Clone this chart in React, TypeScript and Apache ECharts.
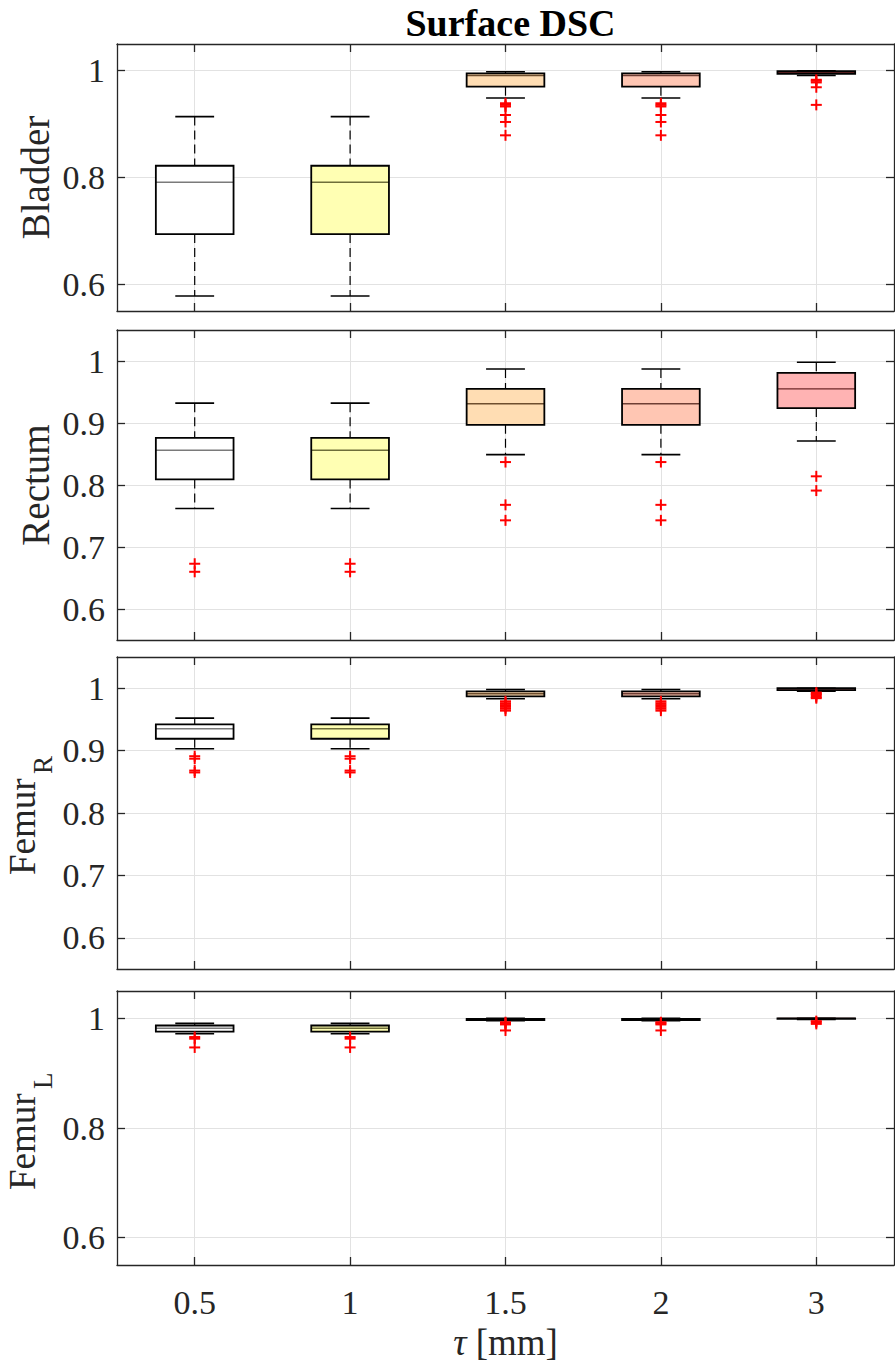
import React, { useEffect, useRef } from 'react';
import * as echarts from 'echarts';

const categories = ['0.5', '1', '1.5', '2', '3'];
const boxColors = ['#FFFFFF', '#FFFFB3', '#FFDDB3', '#FFC6B3', '#FFB3B3'];
const medianColors = ['#7A7A7A', '#6E6E3A', '#6E4E2E', '#6E3E34', '#6E2626'];

// each box: [lower whisker, q1, median, q3, upper whisker]
const bladderBoxes = [
  [0.578, 0.694, 0.791, 0.822, 0.914],
  [0.578, 0.694, 0.791, 0.822, 0.914],
  [0.949, 0.970, 0.991, 0.995, 0.998],
  [0.949, 0.970, 0.991, 0.995, 0.998],
  [0.991, 0.994, 0.997, 0.999, 1.0],
];
const bladderOutliers = [
  [],
  [],
  [0.939, 0.936, 0.933, 0.917, 0.904, 0.879],
  [0.939, 0.936, 0.933, 0.917, 0.904, 0.879],
  [0.983, 0.981, 0.978, 0.969, 0.936],
];

const rectumBoxes = [
  [0.762, 0.809, 0.856, 0.876, 0.932],
  [0.762, 0.809, 0.856, 0.876, 0.932],
  [0.849, 0.897, 0.931, 0.955, 0.987],
  [0.849, 0.897, 0.931, 0.955, 0.987],
  [0.871, 0.924, 0.955, 0.981, 0.998],
];
const rectumOutliers = [
  [0.673, 0.660],
  [0.673, 0.660],
  [0.837, 0.768, 0.743],
  [0.837, 0.768, 0.743],
  [0.814, 0.791],
];

const femurRBoxes = [
  [0.903, 0.919, 0.935, 0.942, 0.952],
  [0.903, 0.919, 0.935, 0.942, 0.952],
  [0.983, 0.987, 0.991, 0.995, 0.998],
  [0.983, 0.987, 0.991, 0.995, 0.998],
  [0.995, 0.997, 0.999, 1.0, 1.0],
];
const femurROutliers = [
  [0.891, 0.887, 0.868, 0.865],
  [0.891, 0.887, 0.868, 0.865],
  [0.979, 0.976, 0.973, 0.970, 0.967, 0.964],
  [0.979, 0.976, 0.973, 0.970, 0.967, 0.964],
  [0.993, 0.991, 0.989, 0.986, 0.984],
];

const femurLBoxes = [
  [0.972, 0.976, 0.982, 0.987, 0.991],
  [0.972, 0.976, 0.982, 0.987, 0.991],
  [0.996, 0.997, 0.998, 0.999, 1.0],
  [0.996, 0.997, 0.998, 0.999, 1.0],
  [0.998, 0.999, 1.0, 1.0, 1.0],
];
const femurLOutliers = [
  [0.966, 0.963, 0.947],
  [0.966, 0.963, 0.947],
  [0.993, 0.991, 0.989, 0.978],
  [0.993, 0.991, 0.989, 0.978],
  [0.995, 0.993, 0.990],
];

const ticksCoarse = [0.6, 0.8, 1];
const ticksFine = [0.6, 0.7, 0.8, 0.9, 1];

const panelNames = ['Bladder', 'Rectum', 'Femur', 'Femur'];
const panelSubs = ['', '', 'R', 'L'];
const panelBoxes = [bladderBoxes, rectumBoxes, femurRBoxes, femurLBoxes];
const panelOutliers = [bladderOutliers, rectumOutliers, femurROutliers, femurLOutliers];
const panelTicks = [ticksCoarse, ticksFine, ticksFine, ticksCoarse];

const titleText = 'Surface DSC';
const xAxisLabel = 'τ [mm]';

const FONT = '"Liberation Serif", "Times New Roman", Times, serif';
const AXIS_COLOR = '#262626';
const GRID_COLOR = '#E2E2E2';

const gridTops = [44, 330, 657, 991];
const gridHeights = [267, 310, 312, 274];
const GRID_LEFT = 117;
const GRID_RIGHT = 1;

export default function App() {
  const ref = useRef<HTMLDivElement | null>(null);

  useEffect(() => {
    if (!ref.current) return;
    const chart = echarts.init(ref.current, undefined, { renderer: 'svg' });
    const catIdx = categories.map((_, i) => i + 1);

    const grids: any[] = [];
    const xAxes: any[] = [];
    const yAxes: any[] = [];
    const series: any[] = [];

    for (let p = 0; p < 4; p++) {
      grids.push({
        left: GRID_LEFT,
        right: GRID_RIGHT,
        top: gridTops[p],
        height: gridHeights[p],
        containLabel: false,
      });
      const isLast = p === 3;
      xAxes.push({
        type: 'value',
        gridIndex: p,
        position: 'bottom',
        min: 0.5,
        max: categories.length + 0.5,
        axisLine: { show: true, onZero: false, lineStyle: { color: AXIS_COLOR, width: 1.3 } },
        axisTick: { show: true, inside: true, length: 8, customValues: catIdx, lineStyle: { color: AXIS_COLOR, width: 1.3 } },
        axisLabel: {
          show: isLast,
          customValues: catIdx,
          formatter: (v: number) => categories[Math.round(v) - 1] ?? '',
          fontSize: 34,
          fontFamily: FONT,
          color: AXIS_COLOR,
          margin: 20,
        },
        splitLine: { show: true, lineStyle: { color: GRID_COLOR, width: 1 } },
      });
      xAxes.push({
        type: 'value',
        gridIndex: p,
        position: 'top',
        min: 0.5,
        max: categories.length + 0.5,
        axisLine: { show: true, onZero: false, lineStyle: { color: AXIS_COLOR, width: 1.3 } },
        axisTick: { show: true, inside: true, length: 8, customValues: catIdx, lineStyle: { color: AXIS_COLOR, width: 1.3 } },
        axisLabel: { show: false, customValues: catIdx },
        splitLine: { show: false },
      });
      yAxes.push({
        type: 'value',
        gridIndex: p,
        position: 'left',
        min: 0.55,
        max: 1.05,
        axisLine: { show: true, onZero: false, lineStyle: { color: AXIS_COLOR, width: 1.3 } },
        axisTick: { show: true, inside: true, length: 8, customValues: panelTicks[p], lineStyle: { color: AXIS_COLOR, width: 1.3 } },
        axisLabel: {
          show: true,
          customValues: panelTicks[p],
          formatter: (v: number) => String(parseFloat(v.toFixed(2))),
          fontSize: 34,
          fontFamily: FONT,
          color: AXIS_COLOR,
          margin: 12,
        },
        splitLine: { show: true, lineStyle: { color: GRID_COLOR, width: 1 } },
      });
      yAxes.push({
        type: 'value',
        gridIndex: p,
        position: 'right',
        min: 0.55,
        max: 1.05,
        axisLine: { show: true, onZero: false, lineStyle: { color: AXIS_COLOR, width: 1.3 } },
        axisTick: { show: true, inside: true, length: 8, customValues: panelTicks[p], lineStyle: { color: AXIS_COLOR, width: 1.3 } },
        axisLabel: { show: false, customValues: panelTicks[p] },
        splitLine: { show: false },
      });

      const boxData = panelBoxes[p].map((b, j) => [j + 1, ...b]);
      series.push({
        type: 'custom',
        name: panelNames[p] + panelSubs[p] + ' box',
        coordinateSystem: 'cartesian2d',
        xAxisIndex: 2 * p,
        yAxisIndex: 2 * p,
        data: boxData,
        encode: { x: 0, y: [1, 2, 3, 4, 5] },
        z: 3,
        renderItem: (params: any, api: any) => {
          const x = api.value(0);
          const j = params.dataIndex;
          const cx = api.coord([x, api.value(1)])[0];
          const yMin = api.coord([x, api.value(1)])[1];
          const yQ1 = api.coord([x, api.value(2)])[1];
          const yMed = api.coord([x, api.value(3)])[1];
          const yQ3 = api.coord([x, api.value(4)])[1];
          const yMax = api.coord([x, api.value(5)])[1];
          const w = api.size([1, 0])[0];
          const bw = w * 0.5;
          const cw = w * 0.25;
          const whiskerStyle = { stroke: '#000', lineWidth: 1.2, lineDash: [9, 5], fill: null };
          const capStyle = { stroke: '#000', lineWidth: 1.6, fill: null };
          return {
            type: 'group',
            children: [
              { type: 'line', shape: { x1: cx, y1: yMax, x2: cx, y2: yQ3 }, style: whiskerStyle },
              { type: 'line', shape: { x1: cx, y1: yQ1, x2: cx, y2: yMin }, style: whiskerStyle },
              { type: 'line', shape: { x1: cx - cw / 2, y1: yMax, x2: cx + cw / 2, y2: yMax }, style: capStyle },
              { type: 'line', shape: { x1: cx - cw / 2, y1: yMin, x2: cx + cw / 2, y2: yMin }, style: capStyle },
              {
                type: 'rect',
                shape: { x: cx - bw / 2, y: yQ3, width: bw, height: Math.max(yQ1 - yQ3, 0.5) },
                style: { fill: boxColors[j], stroke: null },
              },
              { type: 'line', shape: { x1: cx - bw / 2, y1: yMed, x2: cx + bw / 2, y2: yMed }, style: { stroke: medianColors[j], lineWidth: 1.4 } },
              {
                type: 'rect',
                shape: { x: cx - bw / 2, y: yQ3, width: bw, height: Math.max(yQ1 - yQ3, 0.5) },
                style: { fill: null, stroke: '#000', lineWidth: 1.8 },
              },
            ],
          };
        },
      });

      const outData: number[][] = [];
      panelOutliers[p].forEach((list, j) => list.forEach((v) => outData.push([j + 1, v])));
      series.push({
        type: 'custom',
        name: panelNames[p] + panelSubs[p] + ' outliers',
        coordinateSystem: 'cartesian2d',
        xAxisIndex: 2 * p,
        yAxisIndex: 2 * p,
        data: outData,
        encode: { x: 0, y: 1 },
        z: 4,
        renderItem: (params: any, api: any) => {
          const pt = api.coord([api.value(0), api.value(1)]);
          const s = 5.5;
          const st = { stroke: '#FF0000', lineWidth: 2, fill: null };
          return {
            type: 'group',
            children: [
              { type: 'line', shape: { x1: pt[0] - s, y1: pt[1], x2: pt[0] + s, y2: pt[1] }, style: st },
              { type: 'line', shape: { x1: pt[0], y1: pt[1] - s, x2: pt[0], y2: pt[1] + s }, style: st },
            ],
          };
        },
      });
    }

    const plotCenterX = GRID_LEFT + (895 - GRID_LEFT - GRID_RIGHT) / 2;
    const graphics: any[] = [];
    for (let p = 0; p < 4; p++) {
      const cy = gridTops[p] + gridHeights[p] / 2;
      if (!panelSubs[p]) {
        graphics.push({
          type: 'text',
          x: 35,
          y: cy,
          rotation: Math.PI / 2,
          style: {
            text: panelNames[p],
            align: 'center',
            verticalAlign: 'middle',
            fontSize: 39,
            fontFamily: FONT,
            fill: AXIS_COLOR,
          },
        });
      } else {
        graphics.push({
          type: 'group',
          x: 22,
          y: cy,
          rotation: Math.PI / 2,
          children: [
            {
              type: 'text',
              x: -62,
              y: 0,
              style: {
                text: panelNames[p],
                align: 'left',
                verticalAlign: 'middle',
                fontSize: 37,
                fontFamily: FONT,
                fill: AXIS_COLOR,
              },
            },
            {
              type: 'text',
              x: 39,
              y: 21,
              style: {
                text: panelSubs[p],
                align: 'left',
                verticalAlign: 'middle',
                fontSize: 27,
                fontFamily: FONT,
                fill: AXIS_COLOR,
              },
            },
          ],
        });
      }
    }
    graphics.push({
      type: 'text',
      x: plotCenterX,
      y: 1342,
      style: {
        text: '{i|τ} [mm]',
        rich: {
          i: { fontStyle: 'italic', fontSize: 37, fontFamily: FONT, fill: AXIS_COLOR },
        },
        align: 'center',
        verticalAlign: 'middle',
        fontSize: 37,
        fontFamily: FONT,
        fill: AXIS_COLOR,
      },
    });

    chart.setOption({
      animation: false,
      backgroundColor: '#FFFFFF',
      title: {
        text: titleText,
        left: plotCenterX,
        top: -1,
        textAlign: 'center',
        textStyle: { fontFamily: FONT, fontWeight: 'bold', fontSize: 38, color: '#000' },
      },
      grid: grids,
      xAxis: xAxes,
      yAxis: yAxes,
      series,
      graphic: graphics,
    });

    return () => {
      chart.dispose();
    };
  }, []);

  return (
    <div
      ref={ref}
      style={{ position: 'absolute', left: 0, top: 0, width: 895, height: 1364 }}
      aria-label={xAxisLabel}
    />
  );
}
